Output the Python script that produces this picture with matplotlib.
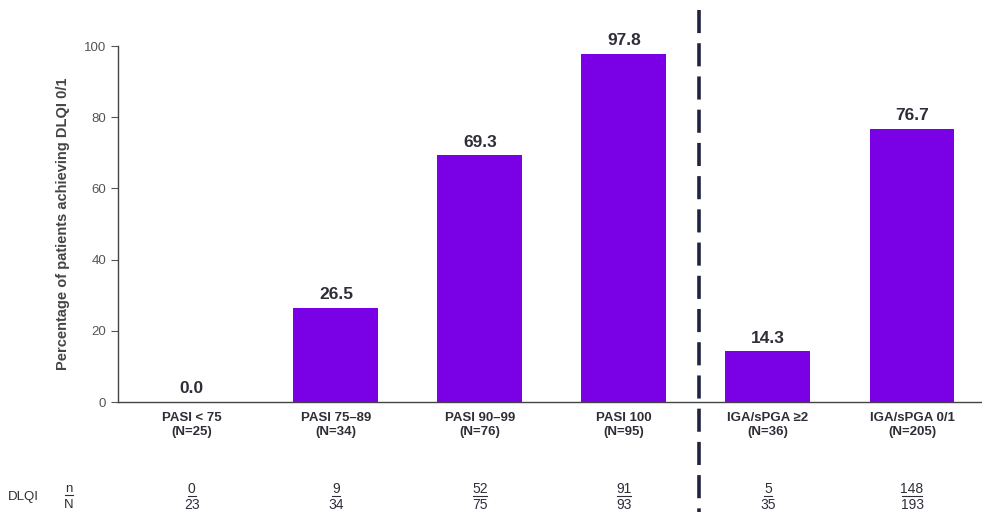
import numpy as np
import matplotlib.pyplot as plt
from matplotlib.lines import Line2D

plt.rcParams['font.family'] = ['Liberation Sans', 'DejaVu Sans']

# data
categories = ['PASI < 75\n(N=25)', 'PASI 75\u201389\n(N=34)', 'PASI 90\u201399\n(N=76)',
              'PASI 100\n(N=95)', 'IGA/sPGA \u22652\n(N=36)', 'IGA/sPGA 0/1\n(N=205)']
values = [0.0, 26.5, 69.3, 97.8, 14.3, 76.7]
dlqi_n = [0, 9, 52, 91, 5, 148]
dlqi_N = [23, 34, 75, 93, 35, 193]

bar_color = '#7a00e6'
text_dark = '#2e2e38'

fig = plt.figure(figsize=(9.82, 5.2), dpi=100)
ax = fig.add_axes([0.120, 0.2269, 0.880, 0.6846])

x = np.arange(len(values))
ax.bar(x, values, width=0.59, color=bar_color)

for xi, v in zip(x, values):
    ax.annotate(f'{v:.1f}', (xi, v), xytext=(0, 4), textcoords='offset points',
                ha='center', va='bottom', fontsize=12.5, fontweight='bold', color=text_dark)

ax.set_xlim(-0.514, 5.486)
ax.set_ylim(0, 100)
ax.set_yticks([0, 20, 40, 60, 80, 100])
ax.tick_params(axis='y', labelsize=9.5, labelcolor='#555555', color='#555555', length=5)
ax.set_xticks(x)
ax.set_xticklabels(categories, fontsize=9.5, fontweight='bold', color=text_dark, linespacing=1.25)
ax.tick_params(axis='x', length=0, pad=7)
ax.set_ylabel('Percentage of patients achieving DLQI 0/1', fontsize=10.5,
              fontweight='bold', color='#444444', labelpad=10)

for s in ['top', 'right']:
    ax.spines[s].set_visible(False)
for s in ['left', 'bottom']:
    ax.spines[s].set_color('#444444')
    ax.spines[s].set_linewidth(1.0)

# DLQI n/N row
trans = ax.get_xaxis_transform()
px = 1 / 144  # data units per pixel along x
fig.text(8 / 982, 1 - 497 / 520, 'DLQI', fontsize=9.5, color=text_dark, ha='left', va='center')
fig.text(69 / 982, 1 - 489 / 520, 'n', fontsize=9.5, color=text_dark, ha='center', va='center')
fig.add_artist(Line2D([65 / 982, 73 / 982], [1 - 495 / 520, 1 - 495 / 520],
                      transform=fig.transFigure, color=text_dark, linewidth=0.8))
fig.text(69 / 982, 1 - 505 / 520, 'N', fontsize=9.5, color=text_dark, ha='center', va='center')
for xi, n, N in zip(x, dlqi_n, dlqi_N):
    ax.text(xi, -0.243, str(n), transform=trans, fontsize=10,
            color=text_dark, ha='center', va='center')
    hw = (3 * len(str(n)) + 0.8) * px
    ax.plot([xi - hw, xi + hw], [-0.263, -0.263], transform=trans, color=text_dark,
            linewidth=0.8, clip_on=False)
    ax.text(xi, -0.29, str(N), transform=trans, fontsize=10,
            color=text_dark, ha='center', va='center')

# dashed separator
fig.add_artist(Line2D([699 / 982, 699 / 982], [1 - 10 / 520, 1 - 512 / 520],
                      transform=fig.transFigure, color='#1f2540', linewidth=2.6,
                      linestyle=(0, (6.4, 2.8))))

fig.savefig('out.png', dpi=100)
